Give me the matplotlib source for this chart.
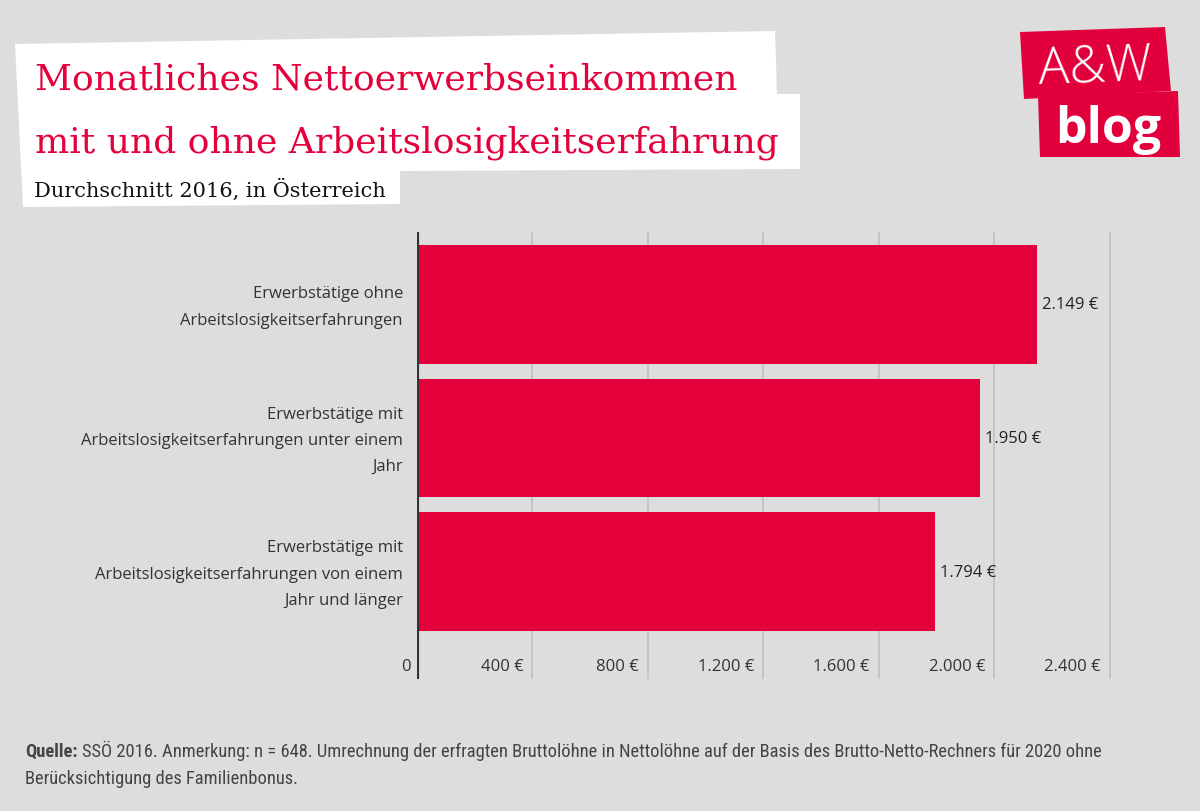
import matplotlib
matplotlib.use('Agg')
from matplotlib import pyplot as plt
from matplotlib import font_manager
from matplotlib.patches import Polygon
import matplotlib.transforms as mtransforms

# data
categories = ['Erwerbstätige ohne\nArbeitslosigkeitserfahrungen',
              'Erwerbstätige mit\nArbeitslosigkeitserfahrungen unter einem\nJahr',
              'Erwerbstätige mit\nArbeitslosigkeitserfahrungen von einem\nJahr und länger']
values = [2149, 1950, 1794]
value_labels = ['2.149 €', '1.950 €', '1.794 €']
ticks = [0, 400, 800, 1200, 1600, 2000, 2400]
tick_labels = ['0', '400 €', '800 €', '1.200 €', '1.600 €', '2.000 €', '2.400 €']

RED = '#E4003A'
BG = '#DDDDDD'

installed = set(f.name for f in font_manager.fontManager.ttflist)
def pick(*names):
    for n in names:
        if n in installed:
            return n
    return 'DejaVu Sans'

SLAB = pick('DejaVu Serif Condensed', 'DejaVu Serif')
SANS = pick('Open Sans', 'Lato', 'DejaVu Sans')
NARROW = pick('Liberation Sans Narrow', 'Roboto Condensed', 'DejaVu Sans')
cond = SLAB == 'DejaVu Serif Condensed'

W, H = 1200, 812
fig = plt.figure(figsize=(12, 8.12), dpi=100, facecolor=BG)

def px(x, y):
    return (x / W, 1 - y / H)

# white title boxes
box = [px(15, 45), px(775, 32), px(777, 95), px(800, 95), px(800, 170),
       px(400, 172), px(400, 205), px(23, 208)]
fig.patches.append(Polygon(box, closed=True, transform=fig.transFigure,
                           facecolor='white', edgecolor='none', zorder=0))

tsize = 29 if cond else 26
fig.text(*px(35, 90), 'Monatliches Nettoerwerbseinkommen', fontsize=tsize,
         family=SLAB, color=RED, va='baseline')
fig.text(*px(35, 152), 'mit und ohne Arbeitslosigkeitserfahrung', fontsize=tsize,
         family=SLAB, color=RED, va='baseline')
fig.text(*px(34, 197), 'Durchschnitt 2016, in Österreich', fontsize=16 if cond else 15,
         family=SLAB, color='#111111', va='baseline')

# logo
fig.patches.append(Polygon([px(1020, 33), px(1165, 28), px(1171, 92), px(1024, 100)],
                           closed=True, transform=fig.transFigure,
                           facecolor='#E2003C', edgecolor='none'))
fig.patches.append(Polygon([px(1038, 97), px(1178, 92), px(1180, 158), px(1040, 158)],
                           closed=True, transform=fig.transFigure,
                           facecolor='#E2003C', edgecolor='none'))
fig.text(*px(1095, 84), 'A&W', fontsize=37, family=SANS, weight='light', color='white',
         ha='center', va='baseline', rotation=2)
fig.text(*px(1108, 143), 'blog', fontsize=36, family=SANS, weight='bold',
         color='white', ha='center', va='baseline')

# chart
ax = fig.add_axes([417 / W, 1 - 680 / H, (1112 - 417) / W, (680 - 233) / H])
ax.set_facecolor(BG)
y = list(range(len(values)))
ax.barh(y, values, height=0.89, color=RED, zorder=2)
ax.set_ylim(2.805, -0.543)
ax.set_xlim(0, 2408)

for v in ticks[1:]:
    ax.axvline(v, color='#C0C0C0', lw=1.2, zorder=1)
ax.axvline(0, color='#333333', lw=3, zorder=3)
for s in ax.spines.values():
    s.set_visible(False)
ax.set_xticks([])
ax.set_yticks([])

trans = mtransforms.blended_transform_factory(ax.transData, ax.transAxes)
for v, lab in zip(ticks, tick_labels):
    off = 6 if v == 0 else 9
    t = mtransforms.offset_copy(trans, fig=fig, x=-off, y=0, units='dots')
    ax.text(v, 13 / 447, lab, transform=t, ha='right', va='center',
            fontsize=12, family=SANS, color='#333333')

for yi, cat in zip(y, categories):
    t = mtransforms.offset_copy(ax.transData, fig=fig, x=-14, y=-2, units='dots')
    ax.text(0, yi, cat, transform=t, ha='right', va='center', fontsize=12,
            family=SANS, color='#333333', linespacing=1.85)

for yi, v, lab in zip(y, values, value_labels):
    t = mtransforms.offset_copy(ax.transData, fig=fig, x=5, y=0, units='dots')
    ax.text(v, yi, lab, transform=t, ha='left', va='center', fontsize=12,
            family=SANS, color='#222222')

# footer
fsize = 13.3
q = fig.text(*px(25, 757), 'Quelle:', fontsize=fsize, family=NARROW, weight='bold',
             color='#444444', va='baseline')
fig.canvas.draw()
qx = q.get_window_extent().x1 / W
fig.text(qx + 4 / W, 1 - 757 / H, 'SSÖ 2016. Anmerkung: n = 648. Umrechnung der erfragten Bruttolöhne in '
         'Nettolöhne auf der Basis des Brutto-Netto-Rechners für 2020 ohne',
         fontsize=fsize, family=NARROW, color='#444444', va='baseline')
fig.text(*px(25, 784), 'Berücksichtigung des Familienbonus.', fontsize=fsize,
         family=NARROW, color='#444444', va='baseline')

fig.savefig('out.png', dpi=100, facecolor=BG)
